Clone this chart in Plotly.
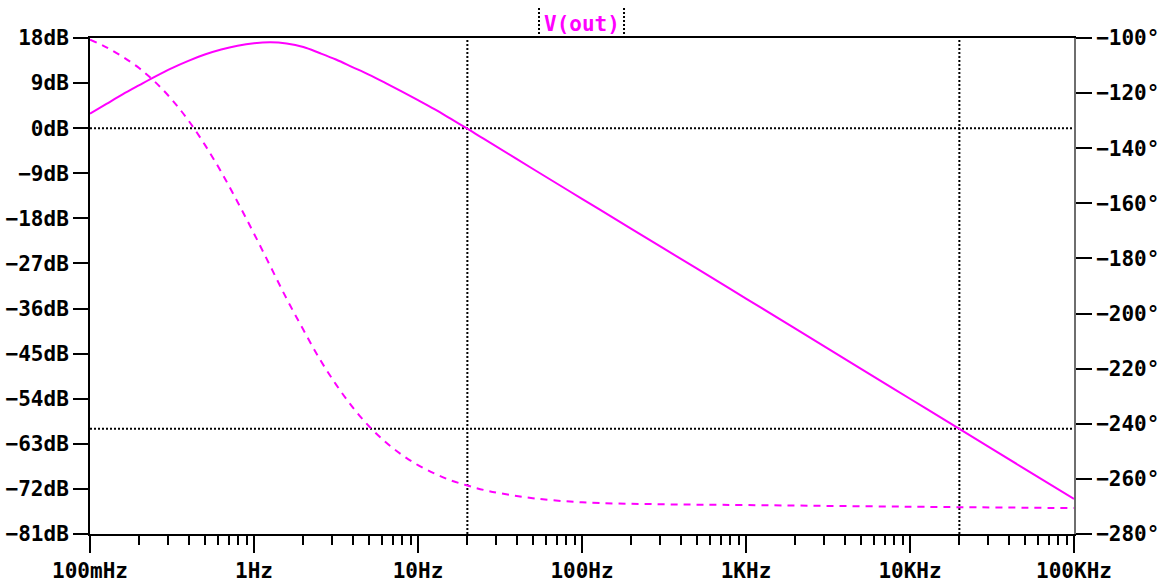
import plotly.graph_objects as go

# AC sweep of V(out): frequency in Hz, magnitude in dB, phase in degrees
gain_freq = [0.1, 0.126, 0.158, 0.2, 0.251, 0.316, 0.398, 0.501, 0.631, 0.794,
             1.0, 1.26, 1.58, 2.0, 2.51, 3.16, 3.98, 5.01, 6.31, 7.94, 10,
             12.6, 15.8, 20, 25.1, 50, 100, 200, 500, 1000, 2000, 5000, 10000,
             20000, 50000, 100000]
gain_db = [2.9, 4.85, 6.75, 8.6, 10.35, 12.0, 13.45, 14.7, 15.7, 16.45,
           16.95, 17.15, 16.9, 16.2, 15.0, 13.7, 12.2, 10.7, 9.05, 7.35, 5.6,
           3.8, 1.9, -0.1, -2.1, -8.1, -14.1, -20.1, -28.0, -34.0, -40.0,
           -48.0, -54.0, -60.0, -68.0, -74.0]

phase_freq = [0.1, 0.126, 0.158, 0.2, 0.251, 0.316, 0.398, 0.501, 0.631,
              0.794, 1.0, 1.26, 1.58, 2.0, 2.51, 3.16, 3.98, 5.01, 6.31, 7.94,
              10, 12.6, 15.8, 20, 25.1, 31.6, 50.1, 100, 300, 1000, 10000,
              100000]
phase_deg = [-100.6, -103.4, -106.8, -111.0, -116.1, -122.4, -129.9, -138.7,
             -148.6, -159.5, -171.0, -182.9, -194.6, -205.9, -216.4, -225.7,
             -233.9, -240.8, -246.5, -251.2, -255.0, -258.0, -260.5, -262.4,
             -264.0, -265.2, -267.0, -268.5, -269.2, -269.5, -270.1, -270.6]

# Axis ticks
freq_ticks = [0.1, 1, 10, 100, 1000, 10000, 100000]
freq_labels = ["100mHz", "1Hz", "10Hz", "100Hz", "1KHz", "10KHz", "100KHz"]
db_ticks = [18, 9, 0, -9, -18, -27, -36, -45, -54, -63, -72, -81]
deg_ticks = [-100, -120, -140, -160, -180, -200, -220, -240, -260, -280]

# Cursor markers
cursor_freqs = [20, 20000]
cursor_levels_db = [0, -60]

MAG = "#ff00ff"
FONT = dict(family="DejaVu Sans Mono", size=21, color="black", weight="bold")
DOTTED = dict(color="black", width=2, dash="2px,2px")


def signed(v, suffix):
    s = f"{abs(v)}{suffix}"
    return ("\u2212" + s) if v < 0 else s


minor_ticks = [m * d for d in freq_ticks[:-1] for m in range(2, 10)]

fig = go.Figure()
fig.add_trace(go.Scatter(
    x=gain_freq, y=gain_db, mode="lines", yaxis="y",
    line=dict(color=MAG, width=2, shape="spline", smoothing=1.0),
    hoverinfo="skip", showlegend=False))
fig.add_trace(go.Scatter(
    x=phase_freq, y=phase_deg, mode="lines", yaxis="y2",
    line=dict(color=MAG, width=2, dash="7px,6px", shape="spline", smoothing=1.0),
    hoverinfo="skip", showlegend=False))

shapes = []
for f in cursor_freqs:
    shapes.append(dict(type="line", xref="x", yref="paper", x0=f, x1=f, y0=0, y1=1,
                       line=DOTTED, layer="below"))
for lv in cursor_levels_db:
    shapes.append(dict(type="line", xref="paper", yref="y", x0=0, x1=1, y0=lv, y1=lv,
                       line=DOTTED, layer="below"))
# bracket lines around the trace label
for px in (0.4563, 0.5427):
    shapes.append(dict(type="line", xref="paper", yref="paper", x0=px, x1=px,
                       y0=1.0, y1=1.063, line=DOTTED))

fig.update_layout(
    width=1170, height=583,
    margin=dict(l=90, r=96, t=38, b=49, autoexpand=False),
    paper_bgcolor="white", plot_bgcolor="white",
    font=FONT,
    shapes=shapes,
    xaxis=dict(
        type="log", range=[-1, 5],
        tickmode="array", tickvals=freq_ticks, ticktext=freq_labels,
        ticks="outside", ticklen=17, tickwidth=2, tickcolor="black",
        minor=dict(tickmode="array", tickvals=minor_ticks, ticks="outside",
                   ticklen=9, tickwidth=2, tickcolor="black", showgrid=False),
        showline=True, linecolor="black", linewidth=2, mirror=True,
        showgrid=False, zeroline=False, tickfont=FONT, automargin=False,
    ),
    yaxis=dict(
        range=[-81, 18],
        tickmode="array", tickvals=db_ticks,
        ticktext=[signed(v, "dB") for v in db_ticks],
        ticks="outside", ticklen=15, tickwidth=2, tickcolor="black",
        showline=True, linecolor="black", linewidth=2,
        showgrid=False, zeroline=False, tickfont=FONT, automargin=False,
    ),
    yaxis2=dict(
        range=[-280, -100], overlaying="y", side="right",
        tickmode="array", tickvals=deg_ticks,
        ticktext=[signed(v, "°") for v in deg_ticks],
        ticks="outside", ticklen=16, tickwidth=2, tickcolor="black",
        showline=True, linecolor="#6e6e6e", linewidth=2,
        showgrid=False, zeroline=False, tickfont=FONT, automargin=False,
    ),
    annotations=[dict(text="V(out)", xref="paper", yref="paper", x=0.5, y=1.0,
                      xanchor="center", yanchor="bottom", yshift=0,
                      showarrow=False,
                      font=dict(family="DejaVu Sans Mono", size=21, color=MAG,
                                weight="bold"))],
)

fig.write_html("out.html", config={"displayModeBar": False})
